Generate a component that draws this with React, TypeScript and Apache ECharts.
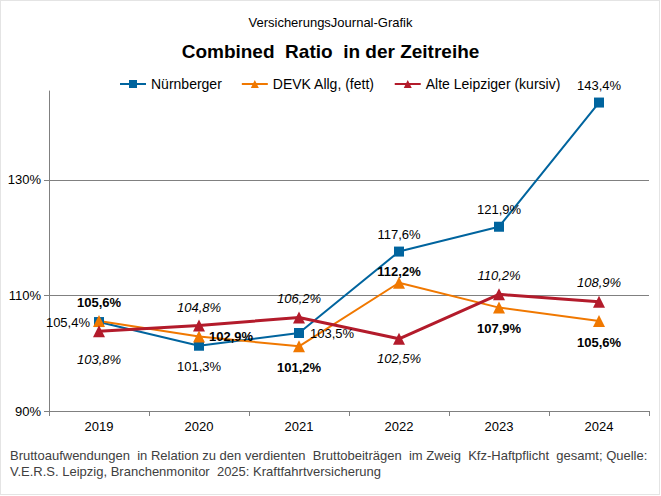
import React, { useEffect, useRef } from "react";
import * as echarts from "echarts";

const years = ["2019", "2020", "2021", "2022", "2023", "2024"];
const nuernberger = [105.4, 101.3, 103.5, 117.6, 121.9, 143.4];
const devk = [105.6, 102.9, 101.2, 112.2, 107.9, 105.6];
const alteLeipziger = [103.8, 104.8, 106.2, 102.5, 110.2, 108.9];
const yTicks = [90, 110, 130];
const gridValues = [110, 130];

const nuernbergerPos = ["left", "bottom", "right", "top", "top", "top"];
const devkPos = ["top", "right", "bottom", "top", "bottom", "bottom"];
const alPos = ["bottom", "top", "top", "bottom", "top", "top"];
const nuernbergerDist = [4, 9, 6, 6, 6, 6];
const devkDist = [6, 4, 9, -1, 8, 9];
const alDist = [16, 6, 6, 7, 6, 7];

const fmt = (v: number) => v.toFixed(1).replace(".", ",") + "%";
const FONT = "'Liberation Sans', Arial, sans-serif";

export default function App() {
  const ref = useRef<HTMLDivElement>(null);
  useEffect(() => {
    if (!ref.current) return;
    const chart = echarts.init(ref.current, undefined, { renderer: "svg" });
    const mk = (
      name: string,
      values: number[],
      pos: string[],
      dist: number[],
      color: string,
      width: number,
      symbol: string,
      symbolSize: number,
      fontWeight: string,
      fontStyle: string
    ) => ({
      name,
      type: "line",
      data: values.map((v, i) => ({
        value: v,
        label: { position: pos[i], distance: dist[i] },
      })),
      symbol,
      symbolSize,
      lineStyle: { color, width },
      itemStyle: { color },
      label: {
        show: true,
        formatter: (p: any) => fmt(p.value),
        fontFamily: FONT,
        fontSize: 13,
        color: "#000",
        fontWeight,
        fontStyle,
      },
      z: 3,
    });
    chart.setOption({
      animation: false,
      backgroundColor: "#fff",
      textStyle: { fontFamily: FONT },
      title: [
        {
          text: "VersicherungsJournal-Grafik",
          left: "center",
          top: 11,
          textStyle: { fontSize: 13, fontWeight: "normal", color: "#000", fontFamily: FONT },
        },
        {
          text: "Combined  Ratio  in der Zeitreihe",
          left: "center",
          top: 37,
          textStyle: { fontSize: 19, fontWeight: 900, color: "#000", fontFamily: FONT },
        },
      ],
      legend: {
        top: 72,
        left: 114,
        itemWidth: 26,
        itemHeight: 10,
        itemGap: 19,
        textStyle: { fontSize: 14, color: "#000", fontFamily: FONT },
        data: ["Nürnberger", "DEVK Allg, (fett)", "Alte Leipziger (kursiv)"],
      },
      grid: { left: 49, right: 12, top: 91, bottom: 85 },
      xAxis: {
        type: "category",
        data: years,
        boundaryGap: true,
        axisLine: { lineStyle: { color: "#808080", width: 1 } },
        axisTick: { show: true, length: 5, lineStyle: { color: "#808080" } },
        axisLabel: { fontSize: 13, color: "#000", margin: 9, fontFamily: FONT },
      },
      yAxis: {
        type: "value",
        min: 90,
        max: 145.4,
        interval: 20,
        axisLine: { show: true, lineStyle: { color: "#808080", width: 1 } },
        axisTick: { show: true, length: 5, lineStyle: { color: "#808080" }, customValues: yTicks },
        splitLine: { show: false },
        axisLabel: {
          fontSize: 13,
          color: "#000",
          margin: 8,
          fontFamily: FONT,
          customValues: yTicks,
          formatter: (v: number) => v + "%",
        },
      },
      graphic: [
        {
          type: "rect",
          shape: { x: 0.5, y: 0.5, width: 659, height: 494 },
          style: { fill: "none", stroke: "#c8c8c8", lineWidth: 1, lineDash: [1, 1] },
          silent: true,
        },
        {
          type: "text",
          left: 10,
          top: 447,
          style: {
            text:
              "Bruttoaufwendungen  in Relation zu den verdienten  Bruttobeiträgen  im Zweig  Kfz-Haftpflicht  gesamt; Quelle:\nV.E.R.S. Leipzig, Branchenmonitor  2025: Kraftfahrtversicherung",
            font: "13px " + FONT,
            fill: "#404040",
            lineHeight: 16,
          },
        },
      ],
      series: [
        {
          ...mk("Nürnberger", nuernberger, nuernbergerPos, nuernbergerDist, "#00649E", 2, "rect", 10, "normal", "normal"),
          markLine: {
            silent: true,
            symbol: "none",
            label: { show: false },
            lineStyle: { color: "#808080", width: 1, type: "solid" },
            data: gridValues.map((v) => ({ yAxis: v })),
            z: 1,
          },
        },
        mk("DEVK Allg, (fett)", devk, devkPos, devkDist, "#F07800", 2, "triangle", 12, "bold", "normal"),
        mk("Alte Leipziger (kursiv)", alteLeipziger, alPos, alDist, "#B31B2B", 3, "triangle", 12, "normal", "italic"),
      ],
    });
    return () => chart.dispose();
  }, []);
  return (
    <div
      ref={ref}
      style={{ position: "fixed", left: 0, top: 0, width: 661, height: 496 }}
    />
  );
}
